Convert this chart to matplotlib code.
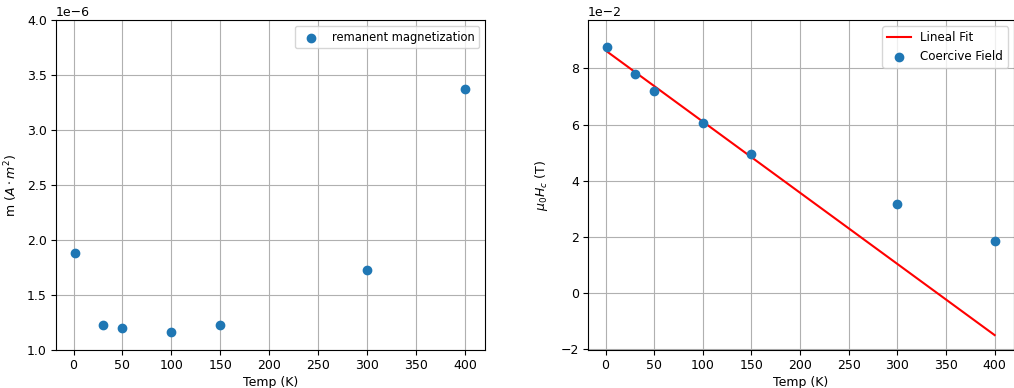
import matplotlib
matplotlib.use('Agg')
import matplotlib.pyplot as plt
import numpy as np

# data
temp = [2, 30, 50, 100, 150, 300, 400]
rem_mag = [1.879e-6, 1.224e-6, 1.203e-6, 1.167e-6, 1.224e-6, 1.724e-6, 3.37e-6]
coer_field = [8.77e-2, 7.82e-2, 7.21e-2, 6.06e-2, 4.94e-2, 3.16e-2, 1.85e-2]

plt.rcParams['font.family'] = ['DejaVu Sans']
plt.rcParams['font.size'] = 9
plt.rcParams['xtick.major.pad'] = 3
plt.rcParams['ytick.major.pad'] = 3
plt.rcParams['axes.labelpad'] = 3

fig = plt.figure(figsize=(10.14, 3.88), dpi=100)
ax1 = fig.add_axes([0.0552, 0.098, 0.4228, 0.850])
ax2 = fig.add_axes([0.580, 0.098, 0.420, 0.850])

# remanent magnetization
ax1.scatter(temp, rem_mag, color='#1f77b4', label='remanent magnetization', zorder=3)
ax1.set_ylim(1.0e-6, 4.0e-6)
ax1.set_xlabel('Temp (K)')
ax1.set_ylabel(r'm $(A\cdot m^2)$', labelpad=5)
ax1.grid(True, color='#b0b0b0', linewidth=0.8)
ax1.set_xticks(np.arange(0, 401, 50))
ax1.legend(loc='upper right', scatteryoffsets=[0.3], fontsize=8.3)

# coercive field + linear fit of the low temperature points
t = np.array(temp)
c = np.array(coer_field)
coef = np.polyfit(t[:5], c[:5], 1)
ax2.plot(t, np.polyval(coef, t), color='red', label='Lineal Fit')
ax2.scatter(temp, coer_field, color='#1f77b4', label='Coercive Field', zorder=3)
ax2.set_ylim(-0.0202, 0.0972)
ax2.ticklabel_format(axis='y', style='sci', scilimits=(0, 0))
ax2.set_xlabel('Temp (K)')
ax2.set_ylabel(r'$\mu_0 H_c$ (T)', labelpad=8)
ax2.grid(True, color='#b0b0b0', linewidth=0.8)
ax2.set_xticks(np.arange(0, 401, 50))
ax2.legend(loc='upper right', scatteryoffsets=[0.3], fontsize=8.6)

fig.savefig('out.png', dpi=100)
